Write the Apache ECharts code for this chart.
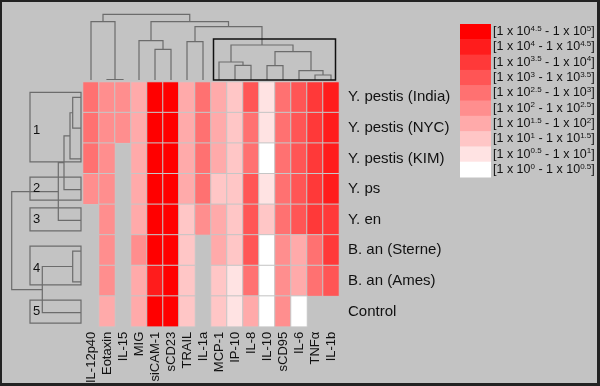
<!DOCTYPE html>
<html><head><meta charset="utf-8">
<script src="https://cdn.jsdelivr.net/npm/echarts@6/dist/echarts.min.js"></script>
<style>html,body{margin:0;padding:0;background:#c3c3c3}#c{width:600px;height:386px}</style>
</head><body><div id="c"></div>
<script>
// ---- data ----
const cytokines = ['IL-12p40','Eotaxin','IL-15','MIG','siCAM-1','sCD23','TRAIL','IL-1a','MCP-1','IP-10','IL-8','IL-10','sCD95','IL-6','TNFα','IL-1b'];
const samples = ['Y. pestis (India)','Y. pestis (NYC)','Y. pestis (KIM)','Y. ps','Y. en','B. an (Sterne)','B. an (Ames)','Control'];
// log10 level (0..9 => [10^(k/2), 10^((k+1)/2)]), null = not measured
const levelIndia   = [5,4,4,3,9,9,3,5,3,2,6,1,5,6,7,8];
const levelNYC     = [5,4,4,3,9,9,3,5,3,2,5,1,5,6,7,8];
const levelKIM     = [5,4,null,3,9,9,3,5,3,2,5,0,5,6,7,8];
const levelYps     = [4,4,null,3,9,9,3,5,2,2,6,1,5,6,7,8];
const levelYen     = [null,4,null,3,9,9,2,4,3,2,6,2,5,6,7,7];
const levelSterne  = [null,4,null,4,9,9,2,null,3,2,6,0,4,3,5,7];
const levelAmes    = [null,4,null,3,8,9,2,null,2,1,5,0,4,3,5,6];
const levelControl = [null,3,null,3,9,9,2,null,2,1,3,0,4,0,null,null];
const levelRows = [levelIndia,levelNYC,levelKIM,levelYps,levelYen,levelSterne,levelAmes,levelControl];
// legend exponents (top to bottom)
const legendLow  = ['4.5','4','3.5','3','2.5','2','1.5','1','0.5','0'];
const legendHigh = ['5','4.5','4','3.5','3','2.5','2','1.5','1','0.5'];
const legendLevels = [9,8,7,6,5,4,3,2,1,0];
// column dendrogram linkage [childA, childB, distance]; ids >= 16 are earlier merges
const topLinkage = [[1,2,0.5],[0,16,58.3],[4,5,30.7],[3,18,39.3],[6,7,38.3],[9,10,14.7],[8,21,18],
  [11,12,14.3],[14,15,5],[13,24,9.3],[23,25,28.3],[22,26,35],[20,27,53.3],[19,28,58.3],[17,29,65.7]];
// row dendrogram linkage; ids >= 8 are earlier merges
const leftLinkage = [[0,1,8.3],[8,2,11],[9,3,17],[10,4,22.7],[5,6,8.3],[12,7,38.7],[11,13,69.3]];
// row groups [firstRow, lastRow, label]
const leftGroups = [[0,2,'1'],[3,3,'2'],[4,4,'3'],[5,6,'4'],[7,7,'5']];
// highlighted column cluster [firstLeaf, lastLeaf, boxHeight]
const topBox = [[8,15,41]];

// ---- helpers ----
function layoutLinkage(linkage, n){
  const pos=[], h=[];
  for(let i=0;i<n;i++){pos[i]=i;h[i]=0;}
  linkage.forEach(([a,b,d],k)=>{pos[n+k]=(pos[a]+pos[b])/2;h[n+k]=d;});
  return linkage.map(([a,b,d])=>[pos[a],pos[b],h[a],h[b],d]);
}
const levelColors = [];
for(let k=0;k<10;k++){const g=Math.round(255*(9-k)/9);const hx=g.toString(16).padStart(2,'0');levelColors.push('#ff'+hx+hx);}

const heatData=[];
levelRows.forEach((row,r)=>row.forEach((v,c)=>{if(v!==null)heatData.push([c,r,v]);}));

const FONT='"Liberation Sans", Arial, sans-serif';
const LINE='#6c6c6c';

const chart = echarts.init(document.getElementById('c'), null, {renderer:'canvas'});

const legendChildren=[];
const swX=460, swY=24, swW=31, swH=15.3;
legendLevels.forEach((lv,i)=>{
  legendChildren.push({type:'rect',shape:{x:swX,y:swY+i*swH,width:swW,height:swH+0.5},style:{fill:levelColors[lv]}});
  legendChildren.push({type:'text',x:swX+swW+2,y:swY+i*swH+swH/2,style:{
    text:'[1 x 10{s|'+legendLow[i]+'} - 1 x 10{s|'+legendHigh[i]+'}]',
    font:'12.5px '+FONT, fill:'#111', verticalAlign:'middle', lineHeight:14,
    rich:{s:{fontSize:8,fontFamily:FONT,verticalAlign:'top',lineHeight:8,fill:'#111'}}
  }});
});

const hideAxis={axisLine:{show:false},axisTick:{show:false},axisLabel:{show:false},splitLine:{show:false}};

chart.setOption({
  animation:false,
  backgroundColor:'#c3c3c3',
  grid:[
    {left:83,top:82,width:256,height:246},
    {left:83,top:0,width:256,height:80},
    {left:0,top:82,width:81,height:246}
  ],
  xAxis:[
    {type:'category',gridIndex:0,data:cytokines,position:'bottom',axisLine:{show:false},axisTick:{show:false},splitLine:{show:false},
     axisLabel:{rotate:90,margin:5,interval:0,fontSize:13,fontFamily:FONT,color:'#111'}},
    Object.assign({type:'value',gridIndex:1,min:-0.5,max:15.5},hideAxis),
    Object.assign({type:'value',gridIndex:2,min:0,max:81,inverse:true},hideAxis)
  ],
  yAxis:[
    {type:'category',gridIndex:0,data:samples,inverse:true,position:'right',axisLine:{show:false},axisTick:{show:false},splitLine:{show:false},
     axisLabel:{margin:9,fontSize:15,fontFamily:FONT,color:'#111'}},
    Object.assign({type:'value',gridIndex:1,min:0,max:80},hideAxis),
    Object.assign({type:'value',gridIndex:2,min:-0.5,max:7.5,inverse:true},hideAxis)
  ],
  visualMap:{type:'piecewise',show:false,seriesIndex:0,dimension:2,
    pieces:levelColors.map((c,k)=>({value:k,color:c}))},
  series:[
    {type:'heatmap',xAxisIndex:0,yAxisIndex:0,data:heatData,
     itemStyle:{borderColor:'#c6c6c6',borderWidth:1},emphasis:{disabled:true}},
    {type:'custom',xAxisIndex:1,yAxisIndex:1,clip:false,silent:true,
     data:layoutLinkage(topLinkage,16),
     renderItem:function(p,api){
       const xl=api.value(0),xr=api.value(1),hl=api.value(2),hr=api.value(3),hm=api.value(4);
       return {type:'polyline',shape:{points:[api.coord([xl,hl]),api.coord([xl,hm]),api.coord([xr,hm]),api.coord([xr,hr])]},
         style:{stroke:LINE,lineWidth:1.2,fill:'none'}};
     }},
    {type:'custom',xAxisIndex:1,yAxisIndex:1,clip:false,silent:true,
     data:topBox,
     renderItem:function(p,api){
       const a=api.coord([api.value(0),api.value(2)]), b=api.coord([api.value(1),0]);
       return {type:'rect',shape:{x:a[0]-5.5,y:a[1],width:b[0]-a[0]+10,height:b[1]-a[1]},
         style:{stroke:'#111',lineWidth:1.5,fill:'none'}};
     }},
    {type:'custom',xAxisIndex:2,yAxisIndex:2,clip:false,silent:true,
     data:layoutLinkage(leftLinkage,8),
     renderItem:function(p,api){
       const yl=api.value(0),yr=api.value(1),hl=api.value(2),hr=api.value(3),hm=api.value(4);
       return {type:'polyline',shape:{points:[api.coord([hl,yl]),api.coord([hm,yl]),api.coord([hm,yr]),api.coord([hr,yr])]},
         style:{stroke:LINE,lineWidth:1.2,fill:'none'}};
     }},
    {type:'custom',xAxisIndex:2,yAxisIndex:2,clip:false,silent:true,
     data:leftGroups,
     renderItem:function(p,api){
       const f=api.value(0), l=api.value(1), lab=leftGroups[p.dataIndex][2];
       const single = f===l;
       const a=api.coord([51,f]), b=api.coord([0,l]);
       const top=a[1]-(single?12.5:5), bot=b[1]+(single?10.5:3);
       const mid=(top+bot)/2+(single?0:3);
       return {type:'group',children:[
         {type:'rect',shape:{x:a[0],y:top,width:b[0]-a[0],height:bot-top},style:{stroke:LINE,lineWidth:1.2,fill:'none'}},
         {type:'text',x:a[0]+3,y:mid,style:{text:lab,font:'13px '+FONT,fill:'#111',verticalAlign:'middle'}}
       ]};
     }}
  ],
  graphic:[
    {type:'group',children:legendChildren},
    {type:'rect',shape:{x:0,y:0,width:600,height:2},style:{fill:'#222'}},
    {type:'rect',shape:{x:0,y:0,width:2,height:386},style:{fill:'#222'}},
    {type:'rect',shape:{x:597,y:0,width:3,height:386},style:{fill:'#222'}},
    {type:'rect',shape:{x:0,y:383,width:600,height:3},style:{fill:'#222'}}
  ]
});
</script></body></html>
